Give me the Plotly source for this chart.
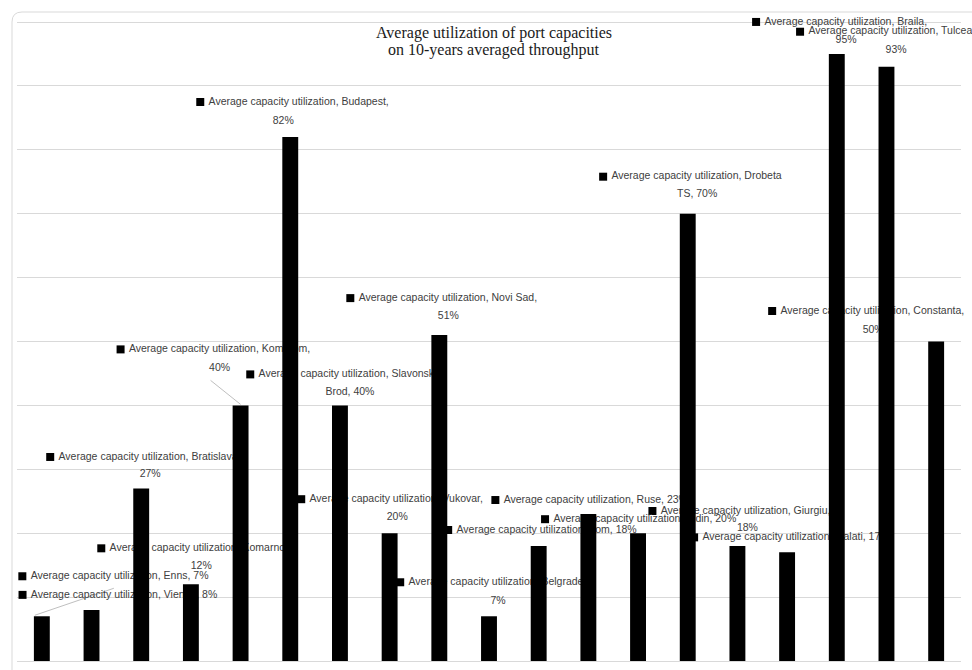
import plotly.graph_objects as go

# Ports along the Danube corridor and their average capacity utilization (%)
ports = ["Enns", "Vienna", "Bratislava", "Komarno", "Komarom", "Budapest",
         "Slavonski Brod", "Vukovar", "Novi Sad", "Belgrade", "Lom", "Ruse",
         "Vidin", "Drobeta TS", "Giurgiu", "Galati", "Braila", "Tulcea", "Constanta"]
utilization = [7, 8, 27, 12, 40, 82, 40, 20, 51, 7, 18, 23, 20, 70, 18, 17, 95, 93, 50]

# How each data label wraps: "none" = one line, "value" = value on 2nd line,
# "name" = port name split over the two lines
label_wrap = ["none", "none", "value", "value", "value", "value", "name", "value",
              "value", "value", "none", "none", "none", "name", "value", "none",
              "value", "value", "value"]

# Label placement in pixels relative to the top-centre of each bar
marker_off = [(-19.5, -40), (-69, -15), (-91, -31.5), (-89.6, -36), (-120, -56),
              (-90, -35), (-89.7, -31), (-88.4, -34), (-89, -37), (-88.8, -34),
              (-90.5, -16), (-93, -14), (-93, -14), (-84.6, -37), (-85, -35),
              (-93, -15), (-80.7, -32), (-86.4, -35), (-164, -30.5)]
second_off = [None, None, (9, -14.5), (10.4, -18), (-21, -37), (-7, -16),
              (10, -13), (7.6, -16), (9, -19), (9, -15), None, None, None,
              (9.4, -19), (10, -18), None, (9.3, -14), (9.6, -16), (-63, -11.5)]
# Leader lines: bar index -> (start dx, start dy, end dx, end dy) in pixels
leaders = {0: (-7, -1, 72, -28), 4: (-30, -25, 0, -1)}

W, H = 972, 670
M = dict(l=17, r=11, t=0, b=9)
plot_w = W - M["l"] - M["r"]
plot_h = H - M["t"] - M["b"]
n = len(ports)
px_x = plot_w / n          # pixels per category
px_y = 6.39                # pixels per percentage point
y_top = plot_h / px_y      # headroom above 100 % keeps the top labels in range


def lines_for(port, v, wrap):
    head = " Average capacity utilization, "
    if wrap == "none":
        return f"{head}{port}, {v}%", None
    if wrap == "name":
        first, rest = port.split(" ", 1)
        return head + first, f"{rest}, {v}%"
    return f"{head}{port},", f"{v}%"


mx, my, t1 = [], [], []
sx, sy, t2 = [], [], []
for i, (port, v, wrap) in enumerate(zip(ports, utilization, label_wrap)):
    first, second = lines_for(port, v, wrap)
    dx, dy = marker_off[i]
    mx.append(i + dx / px_x)
    my.append(v - dy / px_y)
    t1.append(first)
    if second is not None:
        ox, oy = second_off[i]
        sx.append(i + ox / px_x)
        sy.append(v - oy / px_y)
        t2.append(second)

label_font = dict(family="Liberation Sans, Arial, sans-serif", size=10.5, color="#404040")

fig = go.Figure()

# data labels sit on the base axes so the bars (overlay axes) cover them
for i, (x0, y0, x1, y1) in leaders.items():
    v = utilization[i]
    fig.add_trace(go.Scatter(
        x=[i + x0 / px_x, i + x1 / px_x], y=[v - y0 / px_y, v - y1 / px_y],
        mode="lines", line=dict(color="#bfbfbf", width=1),
        hoverinfo="skip", showlegend=False, cliponaxis=False))

fig.add_trace(go.Scatter(
    x=mx, y=my, text=t1, mode="markers+text", textposition="middle right",
    marker=dict(symbol="square", size=8, color="#000000"),
    textfont=label_font, hoverinfo="skip", showlegend=False, cliponaxis=False))

fig.add_trace(go.Scatter(
    x=sx, y=sy, text=t2, mode="text", textposition="middle center",
    textfont=label_font, hoverinfo="skip", showlegend=False, cliponaxis=False))

fig.add_trace(go.Bar(
    x=list(range(n)), y=utilization, xaxis="x2", yaxis="y2",
    marker=dict(color="#000000", line=dict(width=0)),
    name="Average capacity utilization", showlegend=False,
    customdata=ports, hovertemplate="%{customdata}: %{y}%<extra></extra>"))

axis_x = dict(range=[-0.5, n - 0.5], showticklabels=False, showgrid=False,
              zeroline=False, ticks="", fixedrange=True)
axis_y = dict(range=[0, y_top], tickvals=list(range(0, 101, 10)),
              showticklabels=False, ticks="", fixedrange=True)

fig.update_layout(
    width=W, height=H, margin=M,
    paper_bgcolor="#ffffff", plot_bgcolor="#ffffff",
    bargap=0.68,
    xaxis=dict(**axis_x, tickvals=list(range(n)), ticktext=ports),
    yaxis=dict(**axis_y, showgrid=True, gridcolor="#d9d9d9", gridwidth=1,
               zeroline=True, zerolinecolor="#d9d9d9", zerolinewidth=1),
    xaxis2=dict(**axis_x, overlaying="x", visible=False),
    yaxis2=dict(**axis_y, overlaying="y", visible=False, showgrid=False,
                zeroline=False),
)


def to_paper(px, py):
    return (px - M["l"]) / plot_w, (H - M["b"] - py) / plot_h


# chart card outline with a rounded top-left corner
pts = [to_paper(12, 700), to_paper(12, 22), to_paper(12, 12), to_paper(22, 12),
       to_paper(1000, 12)]
path = (f"M {pts[0][0]},{pts[0][1]} L {pts[1][0]},{pts[1][1]} "
        f"Q {pts[2][0]},{pts[2][1]} {pts[3][0]},{pts[3][1]} L {pts[4][0]},{pts[4][1]}")
fig.add_shape(type="path", path=path, xref="paper", yref="paper",
              line=dict(color="#d9d9d9", width=1), layer="above")

title_font = dict(family="Liberation Serif, Times New Roman, serif", size=16, color="#1a1a1a")
tx, _ = to_paper(494, 0)
for text, py in [("Average utilization of port capacities", 33),
                 ("on 10-years averaged throughput", 50)]:
    fig.add_annotation(text=text, x=tx, y=to_paper(0, py)[1], xref="paper", yref="paper",
                       xanchor="center", yanchor="middle", showarrow=False, font=title_font)

fig.write_html("out.html")
